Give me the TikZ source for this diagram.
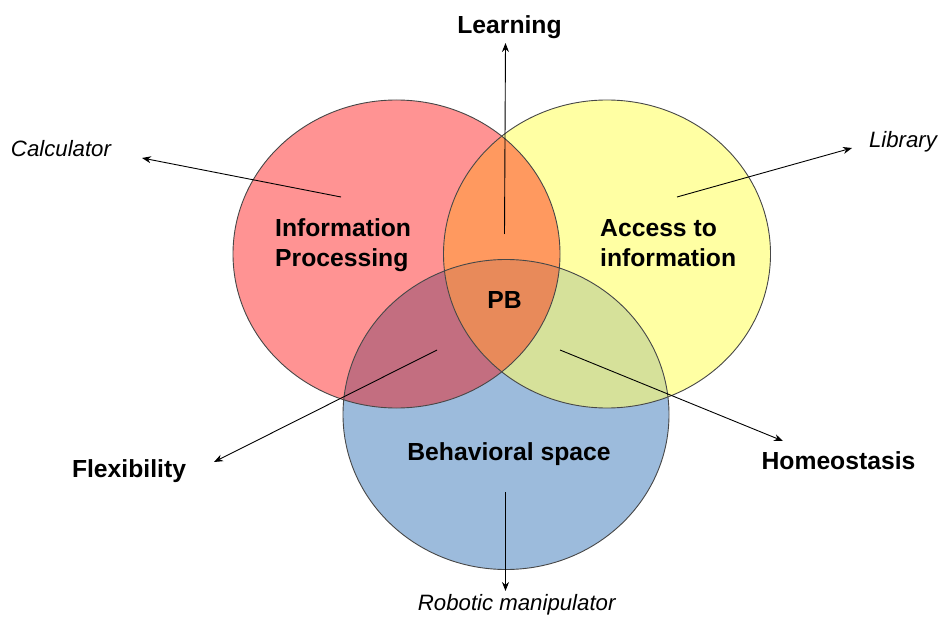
\documentclass[tikz,border=0pt]{standalone}
\usepackage{fontspec}
\setmainfont{Liberation Sans}
\usetikzlibrary{arrows.meta}

% set colours and the colours of their overlaps
\definecolor{setred}{HTML}{FF9393}
\definecolor{setyellow}{HTML}{FFFFA3}
\definecolor{setblue}{HTML}{9CBBDC}
\definecolor{redyellow}{HTML}{FF995F}
\definecolor{redblue}{HTML}{C36E80}
\definecolor{yellowblue}{HTML}{D6E19A}
\definecolor{allthree}{HTML}{E88A5A}

\begin{document}
\begin{tikzpicture}[x=1bp,y=-1bp,
  setoutline/.style={draw=black!72, line width=0.9bp},
  pointer/.style={-{Stealth[length=9bp,width=7bp]}, line width=0.9bp, black},
  setlabel/.style={font=\fontsize{24.8}{30}\selectfont\bfseries, inner sep=0pt},
  example/.style={font=\fontsize{22.3}{26}\selectfont\itshape, inner sep=0pt}]
\useasboundingbox (0,0) rectangle (945,617);

\def\redset{(396.5,254) ellipse [x radius=163.5bp, y radius=154bp]}
\def\yellowset{(607,254) ellipse [x radius=163.5bp, y radius=154bp]}
\def\blueset{(506,414.5) ellipse [x radius=163bp, y radius=155bp]}

% base fills
\fill[setred] \redset;
\fill[setyellow] \yellowset;
\fill[setblue] \blueset;

% pairwise overlaps
\begin{scope}\clip \redset; \fill[redyellow] \yellowset; \end{scope}
\begin{scope}\clip \redset; \fill[redblue] \blueset; \end{scope}
\begin{scope}\clip \yellowset; \fill[yellowblue] \blueset; \end{scope}
% common core
\begin{scope}\clip \redset; \clip \yellowset; \fill[allthree] \blueset; \end{scope}

% outlines
\draw[setoutline] \redset;
\draw[setoutline] \yellowset;
\draw[setoutline] \blueset;

% labels inside the sets (base anchor sits on the last line)
\node[setlabel, anchor=base west, align=left] (info) at (275,266.7) {Information\\Processing};
\node[setlabel, anchor=base west, align=left] (access) at (600,266.7) {Access to\\information};
\node[setlabel, anchor=base] (pb) at (504.5,308.3) {PB};
\node[setlabel, anchor=base] (behav) at (509,460) {Behavioral space};

% outer labels
\node[setlabel, anchor=base] (learning) at (509.5,33.3) {Learning};
\node[setlabel, anchor=base] (flex) at (129,477.3) {Flexibility};
\node[setlabel, anchor=base] (homeo) at (838.5,469.3) {Homeostasis};
\node[example, anchor=base] (calc) at (61,156.7) {Calculator};
\node[example, anchor=base] (library) at (903,147.3) {Library};
\node[example, anchor=base] (robot) at (516.7,610) {Robotic manipulator};

% pointer ends
\coordinate (learnS) at (504.5,234);  \coordinate (learnT) at (505.5,43);
\coordinate (calcS) at (341,197);     \coordinate (calcT) at (142,158);
\coordinate (libS) at (677,197);      \coordinate (libT) at (852,148);
\coordinate (flexS) at (437,350);     \coordinate (flexT) at (214,462);
\coordinate (homeoS) at (560,350);    \coordinate (homeoT) at (783,441);
\coordinate (robotS) at (505.5,492);  \coordinate (robotT) at (505.5,591);

\draw[pointer] (learnS) -- (learnT);
\draw[pointer] (calcS) -- (calcT);
\draw[pointer] (libS) -- (libT);
\draw[pointer] (flexS) -- (flexT);
\draw[pointer] (homeoS) -- (homeoT);
\draw[pointer] (robotS) -- (robotT);
\end{tikzpicture}
\end{document}
